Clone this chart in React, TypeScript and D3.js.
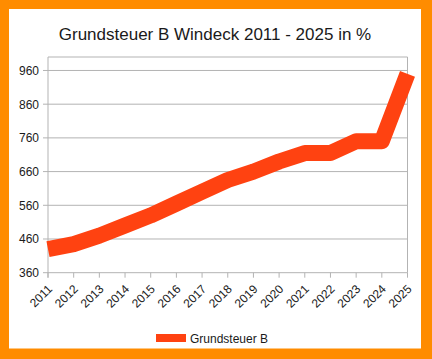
import React from "react";
import * as d3 from "d3";

const years = ["2011","2012","2013","2014","2015","2016","2017","2018","2019","2020","2021","2022","2023","2024","2025"];
const values = [430, 445, 470, 500, 530, 565, 600, 635, 660, 690, 715, 715, 750, 750, 950];
const yTicks = [360, 460, 560, 660, 760, 860, 960];
const title = "Grundsteuer B Windeck 2011 - 2025 in %";
const seriesName = "Grundsteuer B";

export default function App() {
  const W = 432, H = 359;
  const left = 48, right = 407.5, top = 57, bottom = 272.7;
  const x = d3.scalePoint<string>().domain(years).range([left, right]);
  const y = d3.scaleLinear().domain([360, 1000]).range([bottom, top]);
  const line = d3.line<number>().x((_, i) => x(years[i])!).y(d => y(d));
  const font = "'Liberation Sans', Arial, sans-serif";
  const grid = "#b3b3b3";
  const red = "#ff4211";
  return (
    <svg width={W} height={H} style={{ position: "absolute", left: 0, top: 0, display: "block" }} fontFamily={font}>
      <rect x={0} y={0} width={W} height={H} fill="#ff8c00" />
      <rect x={9} y={9} width={412} height={339.5} fill="#ffffff" />
      <text x={215} y={40} textAnchor="middle" fontSize={17} fill="#1a1a1a">{title}</text>
      {yTicks.map(t => (
        <g key={t}>
          <line x1={left - 5} x2={right} y1={y(t)} y2={y(t)} stroke={grid} strokeWidth={1} />
          <text x={39} y={y(t) + 4.5} textAnchor="end" fontSize={12} fill="#1a1a1a">{t}</text>
        </g>
      ))}
      <line x1={left} x2={right} y1={top} y2={top} stroke={grid} />
      <line x1={right} x2={right} y1={top} y2={bottom} stroke={grid} />
      <line x1={left} x2={left} y1={top} y2={bottom + 5} stroke={grid} />
      {years.map(yr => (
        <g key={yr}>
          <line x1={x(yr)} x2={x(yr)} y1={bottom} y2={bottom + 5} stroke={grid} />
          <text transform={`translate(${x(yr)! + 5},${bottom + 17}) rotate(-45)`} textAnchor="end" fontSize={12} fill="#1a1a1a">{yr}</text>
        </g>
      ))}
      <path d={line(values) || ""} fill="none" stroke={red} strokeWidth={16} strokeLinejoin="round" strokeLinecap="butt" />
      <rect x={156} y={334} width={30} height={8} fill={red} />
      <text x={190} y={342.5} fontSize={12} fill="#1a1a1a">{seriesName}</text>
    </svg>
  );
}
